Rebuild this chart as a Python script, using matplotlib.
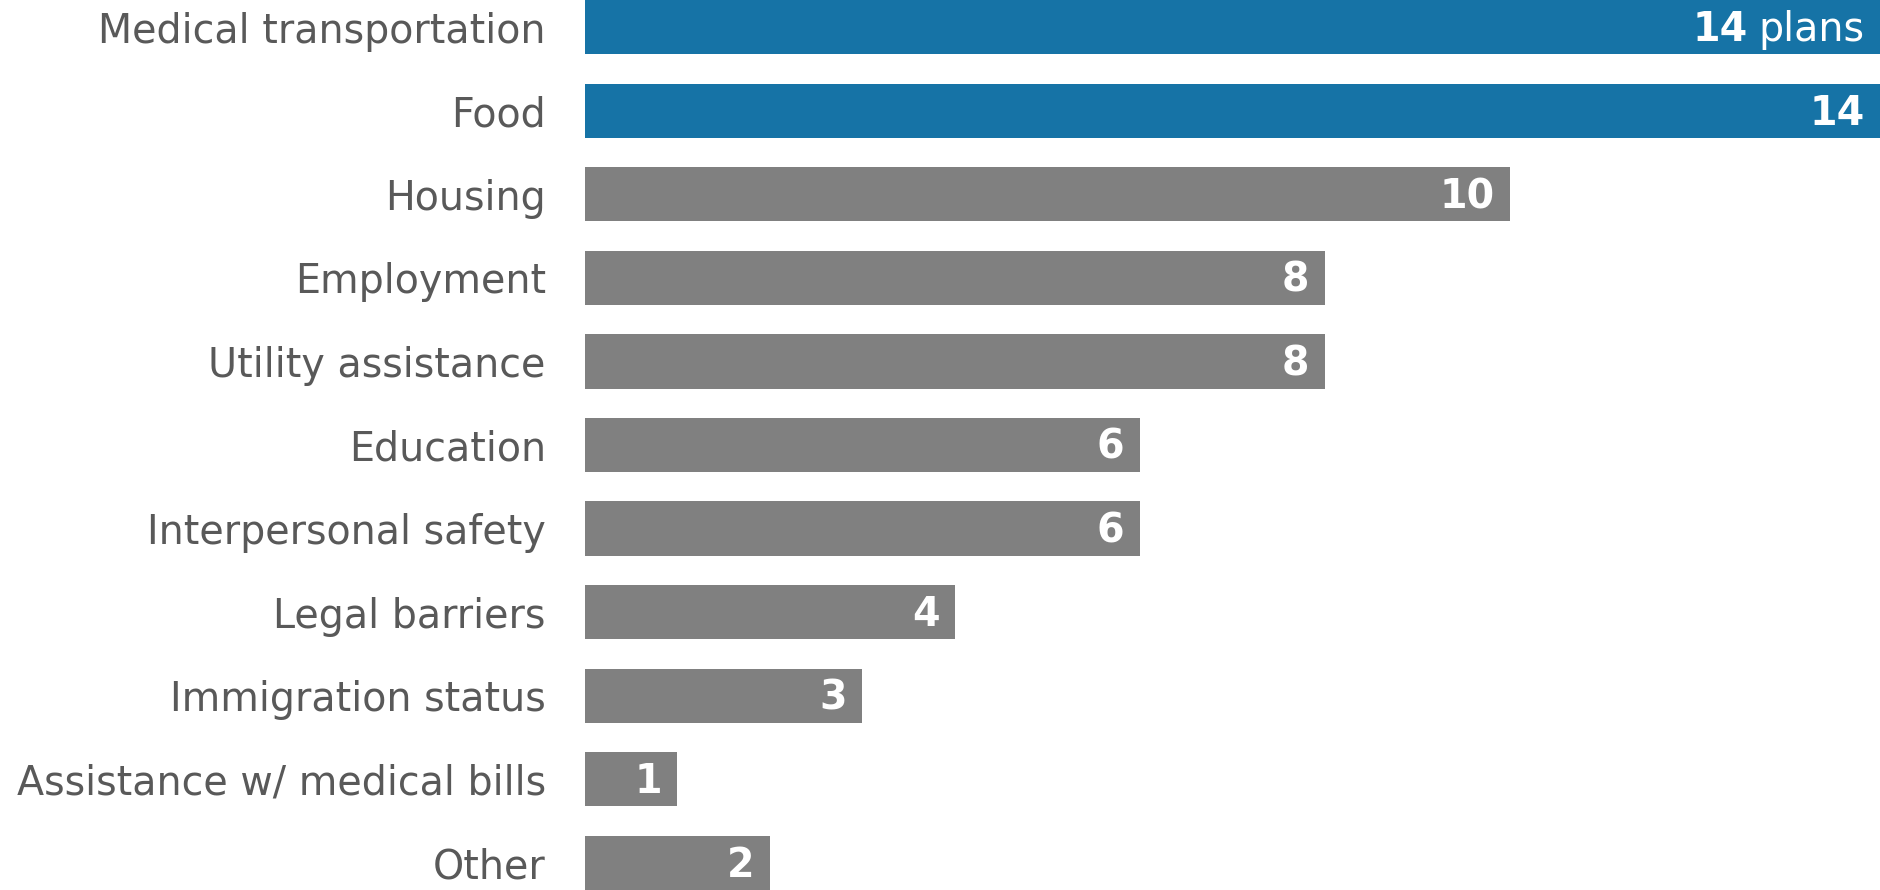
import matplotlib.pyplot as plt

categories = ['Medical transportation', 'Food', 'Housing', 'Employment',
              'Utility assistance', 'Education', 'Interpersonal safety',
              'Legal barriers', 'Immigration status',
              'Assistance w/ medical bills', 'Other']
plans = [14, 14, 10, 8, 8, 6, 6, 4, 3, 1, 2]
highlight = [True, True, False, False, False, False, False, False, False, False, False]

blue = '#1673a6'
gray = '#808080'

plt.rcParams['font.family'] = 'DejaVu Sans'

fig = plt.figure(figsize=(18.8, 8.9), dpi=100)
ax = fig.add_axes([0.311, 0.0, 0.689, 1.0])

ypos = list(range(len(categories)))
colors = [blue if h else gray for h in highlight]
ax.barh(ypos, plans, height=0.65, color=colors)

ax.set_xlim(0, 14)
ax.set_ylim(len(categories) - 1 + 0.325, -0.325)
ax.set_yticks(ypos)
ax.set_yticklabels(categories, fontsize=28.5, color='#595959')
ax.tick_params(axis='y', length=0, pad=28)
ax.set_xticks([])
for s in ax.spines.values():
    s.set_visible(False)

# value labels inside the bar ends, first one gets the unit
for i, v in enumerate(plans):
    if i == 0:
        t = ax.annotate('plans', xy=(v, i), xytext=(-11, -2), textcoords='offset points',
                        ha='right', va='center', color='white', fontsize=28.5)
        ax.annotate(str(v), xy=(0, 0.5), xycoords=t, xytext=(-8, 0),
                    textcoords='offset points', ha='right', va='center',
                    color='white', fontsize=28.5, fontweight='bold')
    else:
        ax.annotate(str(v), xy=(v, i), xytext=(-11, -2), textcoords='offset points',
                    ha='right', va='center', color='white', fontsize=28.5,
                    fontweight='bold')

fig.savefig('out.png', dpi=100)
